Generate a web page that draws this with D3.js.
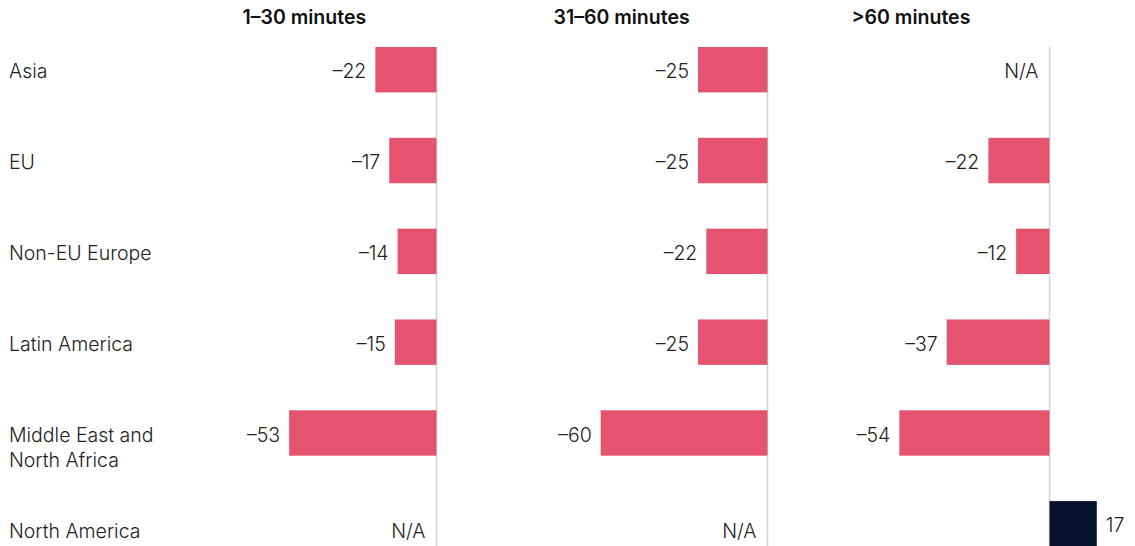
<!DOCTYPE html>
<html>
<head>
<meta charset="utf-8">
<script src="https://cdn.jsdelivr.net/npm/d3@7"></script>
<style>
	body { margin: 0; background: #fff; }
	svg { display: block; font-family: Inter, "Liberation Sans", Arial, sans-serif; }
</style>
</head>
<body>
<svg id="chart"></svg>
<script>
// data
var regions = ["Asia", "EU", "Non-EU Europe", "Latin America", "Middle East and\nNorth Africa", "North America"];
var durations = ["1\u201330 minutes", "31\u201360 minutes", ">60 minutes"];
var short = [-22, -17, -14, -15, -53, null];
var medium = [-25, -25, -22, -25, -60, null];
var long = [null, -22, -12, -37, -54, 17];

var width = 1135, height = 546;
var svg = d3.select("#chart").attr("width", width).attr("height", height);

// each panel: where its zero sits and how far left its header starts
var panels = [
	{ title: durations[0], values: short, zero: 436.5, headerOffset: 194 },
	{ title: durations[1], values: medium, zero: 767.5, headerOffset: 214 },
	{ title: durations[2], values: long, zero: 1049.5, headerOffset: 198 }
];
var unit = 2.78; // px per point

var y = d3.scaleBand()
	.domain(regions)
	.range([47, 546.5])
	.paddingInner(0.5)
	.paddingOuter(0);

// the last row gets cut by the bottom edge, its text sits a bit lower
var textY = function(region) {
	var c = y(region) + y.bandwidth() / 2;
	return region == regions[regions.length - 1] ? c + 6 : c;
};

// region labels
var labels = svg.append("g")
	.attr("font-size", 19.5)
	.attr("font-weight", 300)
	.attr("fill", "#222");
labels.selectAll("text")
	.data(regions)
	.enter().append("text")
	.attr("y", textY)
	.each(function(d) {
		var t = d3.select(this);
		d.split("\n").forEach(function(line, i) {
			t.append("tspan")
				.attr("x", 9)
				.attr("dy", i == 0 ? "0.44em" : "25")
				.text(line);
		});
	});

panels.forEach(function(p) {
	var x = d3.scaleLinear()
		.domain([-70, 20])
		.range([p.zero - 70 * unit, p.zero + 20 * unit]);

	var g = svg.append("g");

	g.append("text")
		.attr("x", p.zero - p.headerOffset)
		.attr("y", 24)
		.attr("font-size", 19.5)
		.attr("font-weight", 600)
		.attr("fill", "#111")
		.text(p.title);

	// zero line
	g.append("line")
		.attr("x1", x(0)).attr("x2", x(0))
		.attr("y1", y.range()[0]).attr("y2", height)
		.attr("stroke", "#d4d4d4")
		.attr("stroke-width", 1.5);

	var rows = regions.map(function(r, i) { return { region: r, value: p.values[i] }; });

	g.selectAll(".bar")
		.data(rows.filter(function(d) { return d.value != null; }))
		.enter().append("rect")
		.attr("class", "bar")
		.attr("x", function(d) { return x(Math.min(0, d.value)); })
		.attr("y", function(d) { return y(d.region); })
		.attr("width", function(d) { return Math.abs(x(d.value) - x(0)); })
		.attr("height", y.bandwidth())
		.attr("fill", function(d) { return d.value < 0 ? "#e5546e" : "#04122b"; });

	g.selectAll(".value")
		.data(rows)
		.enter().append("text")
		.attr("class", "value")
		.attr("font-size", 19.5)
		.attr("font-weight", 300)
		.attr("fill", "#222")
		.attr("x", function(d) {
			if (d.value == null) return x(0) - 11;
			return d.value < 0 ? x(d.value) - 9 : x(d.value) + 9;
		})
		.attr("y", function(d) {
			return d.value == null ? textY(d.region) : y(d.region) + y.bandwidth() / 2;
		})
		.attr("dy", "0.44em")
		.attr("text-anchor", function(d) { return d.value != null && d.value > 0 ? "start" : "end"; })
		.text(function(d) {
			if (d.value == null) return "N/A";
			return d.value < 0 ? "\u2013" + Math.abs(d.value) : d.value;
		});
});
</script>
</body>
</html>
